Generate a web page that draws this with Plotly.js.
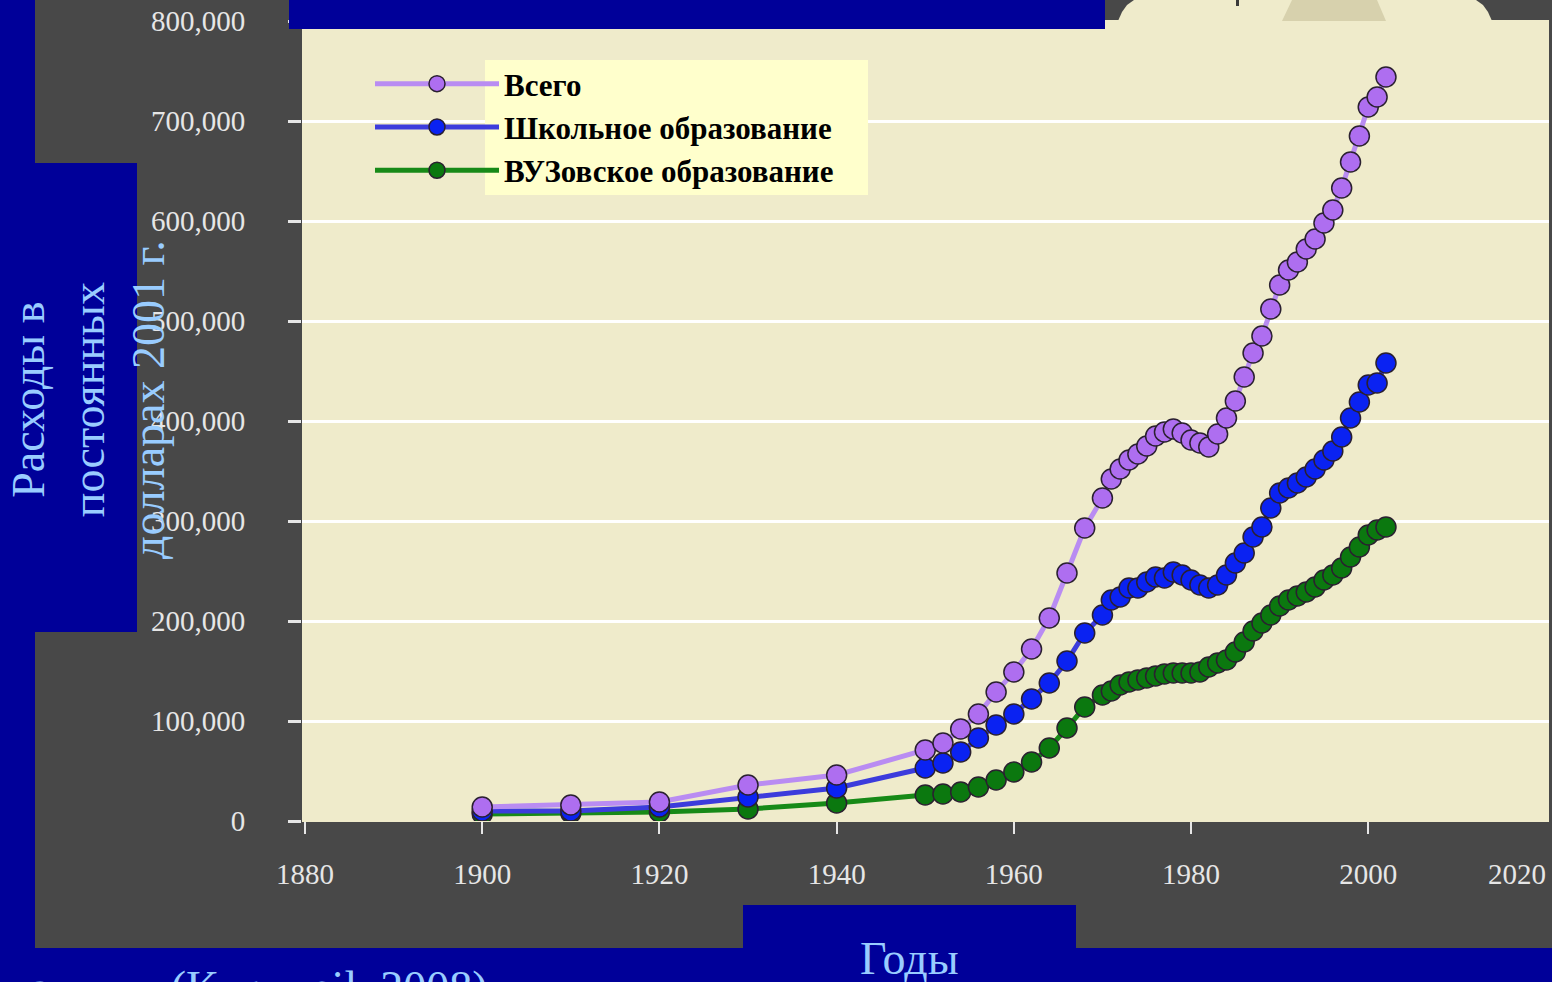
<!DOCTYPE html>
<html>
<head>
<meta charset="utf-8">
<script src="https://cdn.plot.ly/plotly-3.0.1.min.js"></script>
<style>
html,body{margin:0;padding:0;background:#000099;overflow:hidden;}
#chart{width:1552px;height:982px;}
</style>
</head>
<body>
<div id="chart"></div>
<script>
// ---- data ----
const years = [1900,1910,1920,1930,1940,
  1950,1952,1954,1956,1958,1960,1962,1964,1966,1968,
  1970,1971,1972,1973,1974,1975,1976,1977,1978,1979,
  1980,1981,1982,1983,1984,1985,1986,1987,1988,1989,
  1990,1991,1992,1993,1994,1995,1996,1997,1998,1999,
  2000,2001,2002];

const totalSpending = [14000,16000,19000,36000,46000,
  71000,78000,92000,107000,129000,149000,172000,203000,248000,293000,
  323000,342000,352000,361000,367000,375000,385000,389000,392000,388000,
  381000,378000,374000,387000,403000,420000,444000,468000,485000,512000,
  536000,551000,559000,572000,582000,598000,611000,633000,659000,685000,
  714000,724000,744000];

const schoolSpending = [10000,10000,14000,24000,33000,
  53000,58000,69000,83000,96000,107000,122000,138000,160000,188000,
  206000,221000,224000,233000,233000,239000,244000,243000,249000,246000,
  241000,236000,233000,236000,246000,258000,268000,284000,294000,313000,
  328000,333000,338000,344000,352000,361000,370000,384000,403000,419000,
  436000,438000,458000];

const universitySpending = [7000,8000,9000,12000,18000,
  26000,27000,29000,34000,41000,49000,59000,73000,93000,114000,
  126000,130000,136000,139000,141000,143000,145000,147000,148000,148000,
  148000,149000,154000,158000,161000,169000,179000,190000,198000,206000,
  215000,221000,225000,229000,234000,241000,246000,253000,264000,274000,
  286000,291000,294000];

const seriesNames = ['Всего', 'Школьное образование', 'ВУЗовское образование'];
const xTickVals = [1880,1900,1920,1940,1960,1980,2000];
const yTickVals = [0,100000,200000,300000,400000,500000,600000,700000,800000];

// ---- page geometry helpers (pixel -> paper) ----
const L = 302, R = 1549, T = 21, B = 821;
const px = x => (x - L) / (R - L);
const py = y => (B - y) / (B - T);

const serif = 'Liberation Serif, Times New Roman, serif';
const tickCol = '#E6E6E6';
const lblBlue = '#99CCFF';
const markerEdge = {color: '#2A2030', width: 1.5};

const traces = [
  {x: years, y: universitySpending, name: seriesNames[2], type: 'scatter', mode: 'lines+markers',
   line: {color: '#178A17', width: 5}, marker: {color: '#0B780F', size: 20, line: markerEdge}},
  {x: years, y: schoolSpending, name: seriesNames[1], type: 'scatter', mode: 'lines+markers',
   line: {color: '#3C3CDC', width: 5}, marker: {color: '#0A22F2', size: 20, line: markerEdge}},
  {x: years, y: totalSpending, name: seriesNames[0], type: 'scatter', mode: 'lines+markers',
   line: {color: '#B98CF2', width: 5}, marker: {color: '#AE6EF0', size: 20, line: markerEdge}}
];

function rect(x0, y0, x1, y1, color, layer) {
  return {type: 'rect', xref: 'paper', yref: 'paper', x0: px(x0), x1: px(x1), y0: py(y1), y1: py(y0),
          fillcolor: color, line: {width: 0}, layer: layer || 'below'};
}
function path(points, color, layer) {
  let d = 'M' + points.map(p => px(p[0]) + ',' + py(p[1])).join(' L') + ' Z';
  return {type: 'path', xref: 'paper', yref: 'paper', path: d, fillcolor: color, line: {width: 0}, layer: layer || 'below'};
}

const shapes = [
  rect(35, 0, 1552, 948, '#484848'),
  rect(0, 163, 137, 632, '#000099'),
  rect(743, 905, 1076, 982, '#000099'),
  rect(302, 20, 1549, 822, '#EFEBCB'),
  path([[1118,21],[1122,12],[1127,5],[1134,0],[1476,0],[1483,5],[1488,12],[1492,21]], '#EFEBCB'),
  path([[1282,21],[1292,0],[1377,0],[1386,21]], '#D7D1AD'),
  rect(1236, 0, 1239, 6, '#3A3A3A'),
  rect(289, 0, 1105, 29, '#000099', 'above'),
  rect(485, 60, 868, 195, '#FFFFCC', 'above')
];

const annotations = [
  {text: 'Расходы в<br>постоянных<br>долларах 2001 г.', xref: 'paper', yref: 'paper',
   x: px(88), y: py(400), xanchor: 'center', yanchor: 'middle', textangle: -90, showarrow: false,
   font: {family: serif, size: 46, color: lblBlue}},
  {text: 'Годы', xref: 'paper', yref: 'paper', x: px(909), y: py(958), xanchor: 'center', yanchor: 'middle',
   showarrow: false, font: {family: serif, size: 46, color: lblBlue}},
  {text: '2020', xref: 'paper', yref: 'paper', x: px(1517), y: py(874), xanchor: 'center', yanchor: 'middle',
   showarrow: false, font: {family: serif, size: 29, color: tickCol}},
  {text: 'по данным (Kurzweil, 2008)', xref: 'paper', yref: 'paper', x: px(489), y: py(987), xanchor: 'right', yanchor: 'middle',
   showarrow: false, font: {family: serif, size: 46, color: lblBlue}}
];

const layout = {
  width: 1552, height: 982,
  margin: {l: L, r: 1552 - R, t: T, b: 982 - B, pad: 0},
  paper_bgcolor: '#000099',
  plot_bgcolor: 'rgba(0,0,0,0)',
  xaxis: {range: [1879.66, 2020.4], tickvals: xTickVals, ticks: 'outside', ticklen: 12, tickwidth: 2,
          tickcolor: tickCol, showgrid: false, zeroline: false, showline: false, ticklabelstandoff: 15,
          tickfont: {family: serif, size: 29, color: tickCol}},
  yaxis: {range: [0, 800000], tickvals: yTickVals, tickformat: ',d', ticks: 'outside', ticklen: 13, tickwidth: 3,
          tickcolor: tickCol, showgrid: true, gridcolor: '#FFFFFF', gridwidth: 3, zeroline: false, showline: false,
          ticklabelstandoff: 37, tickfont: {family: serif, size: 29, color: tickCol}},
  showlegend: true,
  legend: {x: px(370), xanchor: 'left', y: py(57), yanchor: 'top', bgcolor: 'rgba(0,0,0,0)', borderwidth: 0,
           traceorder: 'reversed', itemwidth: 124, tracegroupgap: 0,
           font: {family: serif, size: 31, color: '#000000', weight: 'bold'}},
  shapes: shapes,
  annotations: annotations
};

Plotly.newPlot('chart', traces, layout, {displayModeBar: false, staticPlot: true});
</script>
</body>
</html>
